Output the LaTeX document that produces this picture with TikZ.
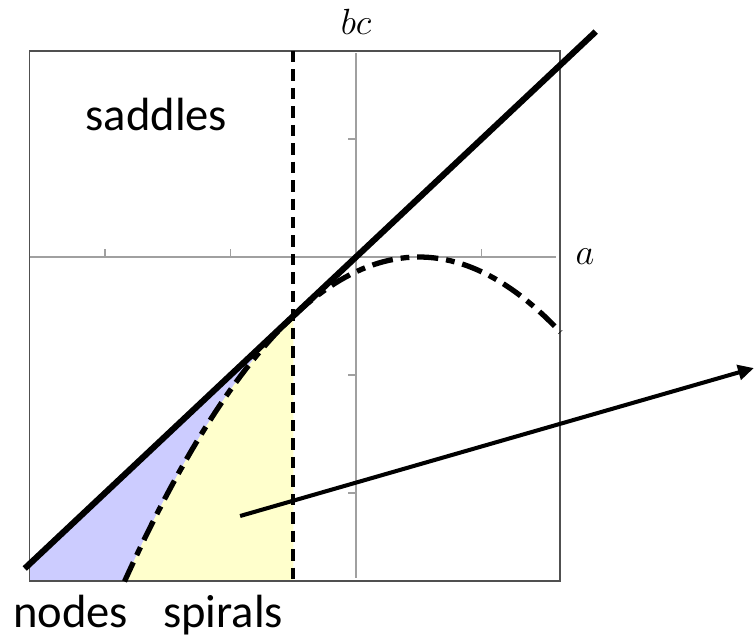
\documentclass[tikz,border=0pt]{standalone}
\usepackage{fontspec}
\setsansfont{Carlito}
\usepackage{tikz}
\usetikzlibrary{arrows.meta}
\definecolor{nodefill}{HTML}{CCCCFF}
\definecolor{spiralfill}{HTML}{FFFFCC}
\definecolor{frame}{HTML}{505050}
\definecolor{axisgray}{HTML}{A0A0A0}

\begin{document}
\begin{tikzpicture}[x=2.51cm, y=2.36cm,
  region/.style={font=\sffamily\fontsize{26.5}{30}\selectfont, anchor=base, inner sep=0pt},
  axislabel/.style={font=\fontsize{21}{24}\selectfont},
  dashdot/.style={line width=3pt, dash pattern=on 12pt off 4.5pt on 5pt off 4.5pt}]
  \useasboundingbox (-2.837,-3.237) rectangle (3.187,2.178);
  % shaded regions
  \fill[nodefill] (-2.6,-2.6) -- (-0.5,-0.5)
    -- plot[domain=-0.5:-1.845, samples=40] (\x,{-0.5*(\x-0.5)^2})
    -- (-2.6,-2.746) -- cycle;
  \fill[spiralfill] (-0.5,-0.5) -- (-0.5,-2.746)
    -- plot[domain=-1.845:-0.5, samples=40] (\x,{-0.5*(\x-0.5)^2}) -- cycle;
  % frame and axes
  \draw[frame, line width=0.8pt] (-2.6,-2.746) rectangle (1.625,1.746);
  \draw[axisgray, line width=0.8pt] (-2.6,0) -- (1.594,0);
  \draw[axisgray, line width=0.8pt] (0,-2.72) -- (0,1.73);
  \foreach \t in {-2,-1,1} {
    \draw[axisgray, line width=0.8pt] (\t,0) -- (\t,0.068);
    \draw[axisgray, line width=0.8pt] (0,\t) -- (-0.064,\t);
  }
  \node[axislabel] (bclabel) at (0,1.99) {$bc$};
  \node[axislabel] (alabel) at (1.825,0) {$a$};
  % boundaries
  \draw[dashdot] plot[domain=-1.845:1.63, samples=80] (\x,{-0.5*(\x-0.5)^2});
  \draw[line width=2.3pt, dash pattern=on 6.5pt off 4pt] (-0.5,1.746) -- (-0.5,-2.746);
  \draw[line width=3.5pt] (-2.64,-2.64) -- (1.91,1.91);
  % arrow out of the spiral region
  \coordinate (tail) at (-0.924,-2.195);
  \coordinate (head) at (3.17,-0.941);
  \draw[-{Triangle[length=9pt,width=8.5pt]}, line width=2.3pt] (tail) -- (head);
  % region names
  \node[region] (saddles) at (-1.59,1.076) {saddles};
  \node[region] (nodes) at (-2.275,-3.136) {nodes};
  \node[region] (spirals) at (-1.06,-3.136) {spirals};
\end{tikzpicture}
\end{document}
